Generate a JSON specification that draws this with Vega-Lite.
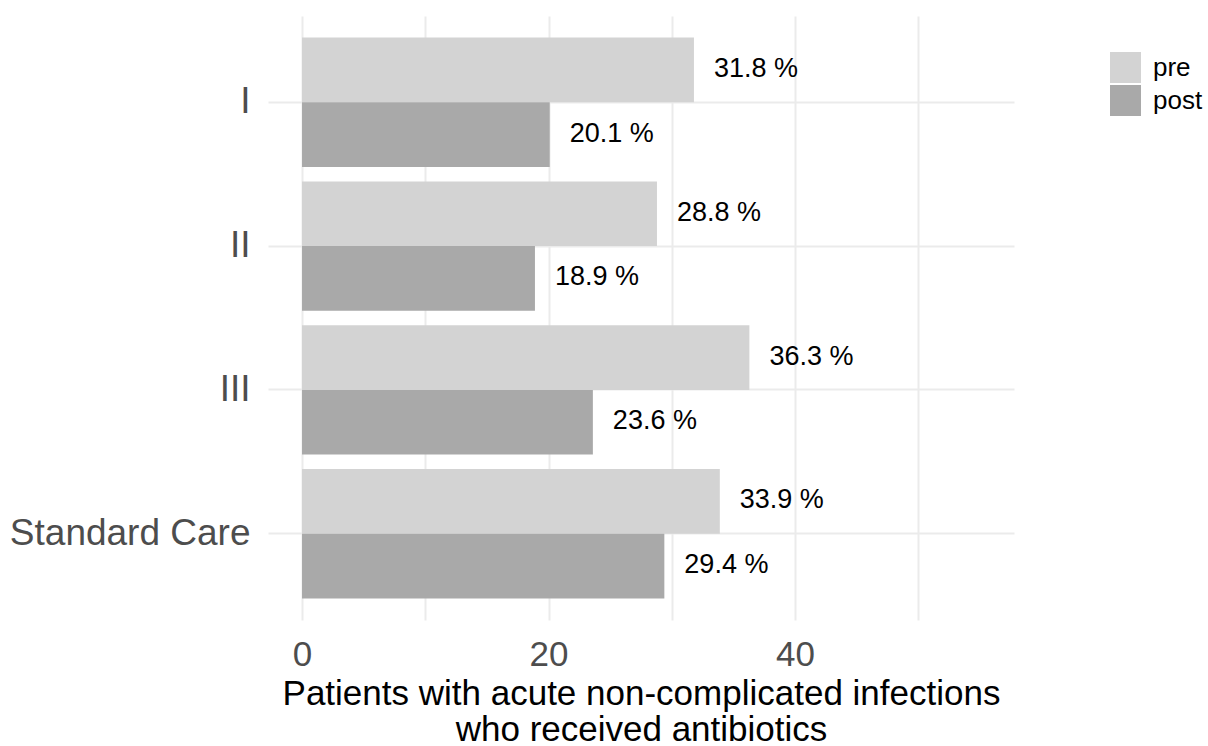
{
  "$schema": "https://vega.github.io/schema/vega-lite/v6.json",
  "width": 746,
  "height": 604,
  "autosize": {"type": "none"},
  "padding": {"left": 268, "top": 16, "right": 194, "bottom": 126},
  "background": "white",
  "config": {
    "font": "Liberation Sans",
    "view": {"stroke": null},
    "axis": {"gridColor": "#ebebeb", "gridWidth": 2, "domain": false, "ticks": false, "tickSize": 0}
  },
  "data": {
    "values": [
      {"arm": "I", "period": "pre", "pct": 31.8, "label": "31.8 %"},
      {"arm": "I", "period": "post", "pct": 20.1, "label": "20.1 %"},
      {"arm": "II", "period": "pre", "pct": 28.8, "label": "28.8 %"},
      {"arm": "II", "period": "post", "pct": 18.9, "label": "18.9 %"},
      {"arm": "III", "period": "pre", "pct": 36.3, "label": "36.3 %"},
      {"arm": "III", "period": "post", "pct": 23.6, "label": "23.6 %"},
      {"arm": "Standard Care", "period": "pre", "pct": 33.9, "label": "33.9 %"},
      {"arm": "Standard Care", "period": "post", "pct": 29.4, "label": "29.4 %"}
    ]
  },
  "encoding": {
    "y": {
      "field": "arm",
      "type": "nominal",
      "sort": ["I", "II", "III", "Standard Care"],
      "scale": {"paddingInner": 0.1, "paddingOuter": 0.15},
      "axis": {
        "title": null,
        "grid": true,
        "bandPosition": 0.5,
        "labelFontSize": 37,
        "labelColor": "#4d4d4d",
        "labelPadding": 18,
        "labelLimit": 400
      }
    },
    "yOffset": {
      "field": "period",
      "type": "nominal",
      "sort": ["pre", "post"],
      "scale": {"domain": ["pre", "post"], "paddingInner": 0, "paddingOuter": 0}
    },
    "x": {
      "field": "pct",
      "type": "quantitative",
      "scale": {"domain": [-2.76, 57.77], "nice": false, "zero": false},
      "axis": {
        "values": [0, 10, 20, 30, 40, 50],
        "labelExpr": "datum.value % 20 == 0 ? datum.label : ''",
        "labelFlush": false,
        "labelOverlap": false,
        "grid": true,
        "labelFontSize": 35,
        "labelColor": "#4d4d4d",
        "labelPadding": 17,
        "title": ["Patients with acute non-complicated infections", "who received antibiotics"],
        "titleFontSize": 35,
        "titleFontWeight": "normal",
        "titleColor": "black",
        "titleLineHeight": 36,
        "titleBaseline": "alphabetic",
        "titleY": 84
      }
    }
  },
  "layer": [
    {
      "mark": {"type": "bar"},
      "encoding": {
        "color": {
          "field": "period",
          "type": "nominal",
          "scale": {"domain": ["pre", "post"], "range": ["#d3d3d3", "#a9a9a9"]},
          "legend": {
            "title": null,
            "orient": "none",
            "legendX": 842,
            "legendY": 36,
            "padding": 0,
            "symbolType": "square",
            "symbolSize": 961,
            "symbolStrokeWidth": 0,
            "symbolOpacity": 1,
            "labelFontSize": 26,
            "labelColor": "black",
            "labelOffset": 12,
            "rowPadding": 2
          }
        }
      }
    },
    {
      "mark": {"type": "text", "align": "left", "baseline": "middle", "dx": 20, "dy": -1, "fontSize": 27, "color": "black"},
      "encoding": {"text": {"field": "label", "type": "nominal"}}
    }
  ]
}
